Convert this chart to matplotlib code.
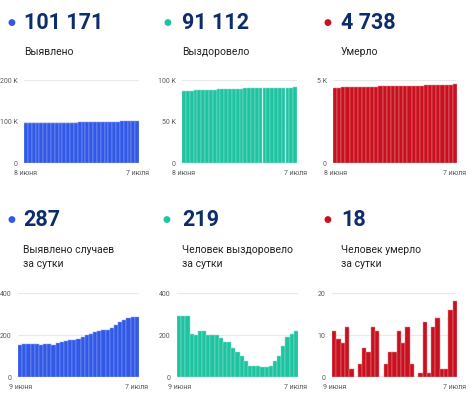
import matplotlib
matplotlib.use("Agg")
from matplotlib import pyplot as plt

plt.rcParams['font.family'] = ['Roboto', 'DejaVu Sans']

W = 472
H = 398

# totals (8 June .. 7 July)
detected_total = [95412, 95564, 95719, 95875, 96030, 96185, 96339, 96494, 96650, 96804,
                  96964, 97129, 97299, 97474, 97652, 97834, 98024, 98222, 98428, 98640,
                  98858, 99080, 99306, 99541, 99789, 100051, 100321, 100600, 100884, 101171]
recovered_total = [86590, 86881, 87172, 87463, 87669, 87869, 88088, 88307, 88507, 88707,
                   88907, 89094, 89260, 89426, 89565, 89685, 89784, 89862, 89915, 89968,
                   90022, 90072, 90122, 90173, 90250, 90349, 90498, 90690, 90893, 91112]
deaths_total = [4529, 4540, 4549, 4557, 4569, 4571, 4571, 4574, 4581, 4587,
                4599, 4610, 4610, 4613, 4619, 4625, 4636, 4644, 4656, 4659,
                4659, 4660, 4673, 4674, 4686, 4700, 4702, 4704, 4720, 4738]

# per day (9 June .. 7 July)
detected_day = [152, 155, 156, 155, 155, 154, 155, 156, 154, 160,
                165, 170, 175, 178, 182, 190, 198, 206, 212, 218,
                222, 226, 235, 248, 262, 270, 279, 284, 287]
recovered_day = [291, 291, 291, 206, 200, 219, 219, 200, 200, 200,
                 187, 166, 166, 139, 120, 99, 78, 53, 53, 54,
                 50, 50, 51, 77, 99, 149, 192, 203, 219]
deaths_day = [11, 9, 8, 12, 2, 0, 3, 7, 6, 12,
              11, 0, 3, 6, 6, 11, 8, 12, 3, 0,
              1, 13, 1, 12, 14, 2, 2, 16, 18]

big_numbers = ["101 171", "91 112", "4 738", "287", "219", "18"]
titles = ["Выявлено", "Выздоровело", "Умерло",
          "Выявлено случаев\nза сутки", "Человек выздоровело\nза сутки", "Человек умерло\nза сутки"]
first_day = ["8 июня", "8 июня", "8 июня", "9 июня", "9 июня", "9 июня"]
last_day = ["7 июля", "7 июля", "7 июля", "7 июля", "7 июля", "7 июля"]

yticks = [[0, 100000, 200000], [0, 50000, 100000], [0, 5000],
          [0, 200, 400], [0, 200, 400], [0, 10, 20]]
ytick_labels = [["0", "100 K", "200 K"], ["0", "50 K", "100 K"], ["0", "5 K"],
                ["0", "200", "400"], ["0", "200", "400"], ["0", "10", "20"]]

blue = "#3158e6"
teal = "#1ec4a2"
red = "#c8101e"
blue_l = "#8ea4f2"
teal_l = "#8fe0cf"
red_l = "#e48890"
navy = "#0c2c6c"

series = [detected_total, recovered_total, deaths_total, detected_day, recovered_day, deaths_day]
colors = [blue, teal, red, blue, teal, red]
edges = [blue_l, teal_l, red_l, blue_l, teal_l, red_l]

# panel layout in pixels: axes box (left, right, top, bottom), dot x, text x, header y
boxes = [(24, 139, 80, 163), (182, 297, 80, 163), (333, 457, 80, 163),
         (18, 139, 293, 377), (177, 298, 293, 377), (332, 457, 293, 377)]
dot_x = [11, 167, 327, 11, 166, 327]
text_x = [24, 182, 341, 23, 182, 341]
num_y = [23, 23, 23, 220, 220, 220]
title_y = [52, 52, 52, 257, 257, 257]

fig = plt.figure(figsize=(W / 100, H / 100), dpi=100)
fig.patch.set_facecolor("white")


def fx(x):
    return x / W


def fy(y):
    return 1 - y / H


for i in range(6):
    l, r, t, b = boxes[i]
    ax = fig.add_axes([fx(l), fy(b), (r - l) / W, (b - t) / H])
    vals = series[i]
    ax.bar(range(len(vals)), vals, width=1.0, color=colors[i], edgecolor=edges[i],
           linewidth=0.35, zorder=2)
    ax.set_xlim(-0.5, len(vals) - 0.5)
    ax.set_ylim(0, yticks[i][-1])
    ax.set_yticks(yticks[i])
    ax.set_yticklabels(ytick_labels[i])
    ax.set_xticks([0, len(vals) - 1])
    ax.set_xticklabels([first_day[i], last_day[i]])
    ax.tick_params(axis="both", length=0, labelsize=5, labelcolor="#5a5a5a")
    ax.tick_params(axis="y", pad=4.5)
    ax.tick_params(axis="x", pad=5)
    ax.grid(axis="y", color="#e8e8e8", linewidth=0.8, zorder=0)
    for s in ax.spines.values():
        s.set_visible(False)

    fig.text(fx(dot_x[i]), fy(num_y[i]), "●", color=colors[i], fontsize=6.5,
             ha="center", va="center")
    fig.text(fx(text_x[i]), fy(num_y[i]), big_numbers[i], color=navy, fontsize=15.5,
             fontweight="bold", ha="left", va="center")
    fig.text(fx(text_x[i]), fy(title_y[i]), titles[i], color="#222222", fontsize=7.5,
             ha="left", va="center", linespacing=1.55)

fig.savefig("out.png", dpi=100)
